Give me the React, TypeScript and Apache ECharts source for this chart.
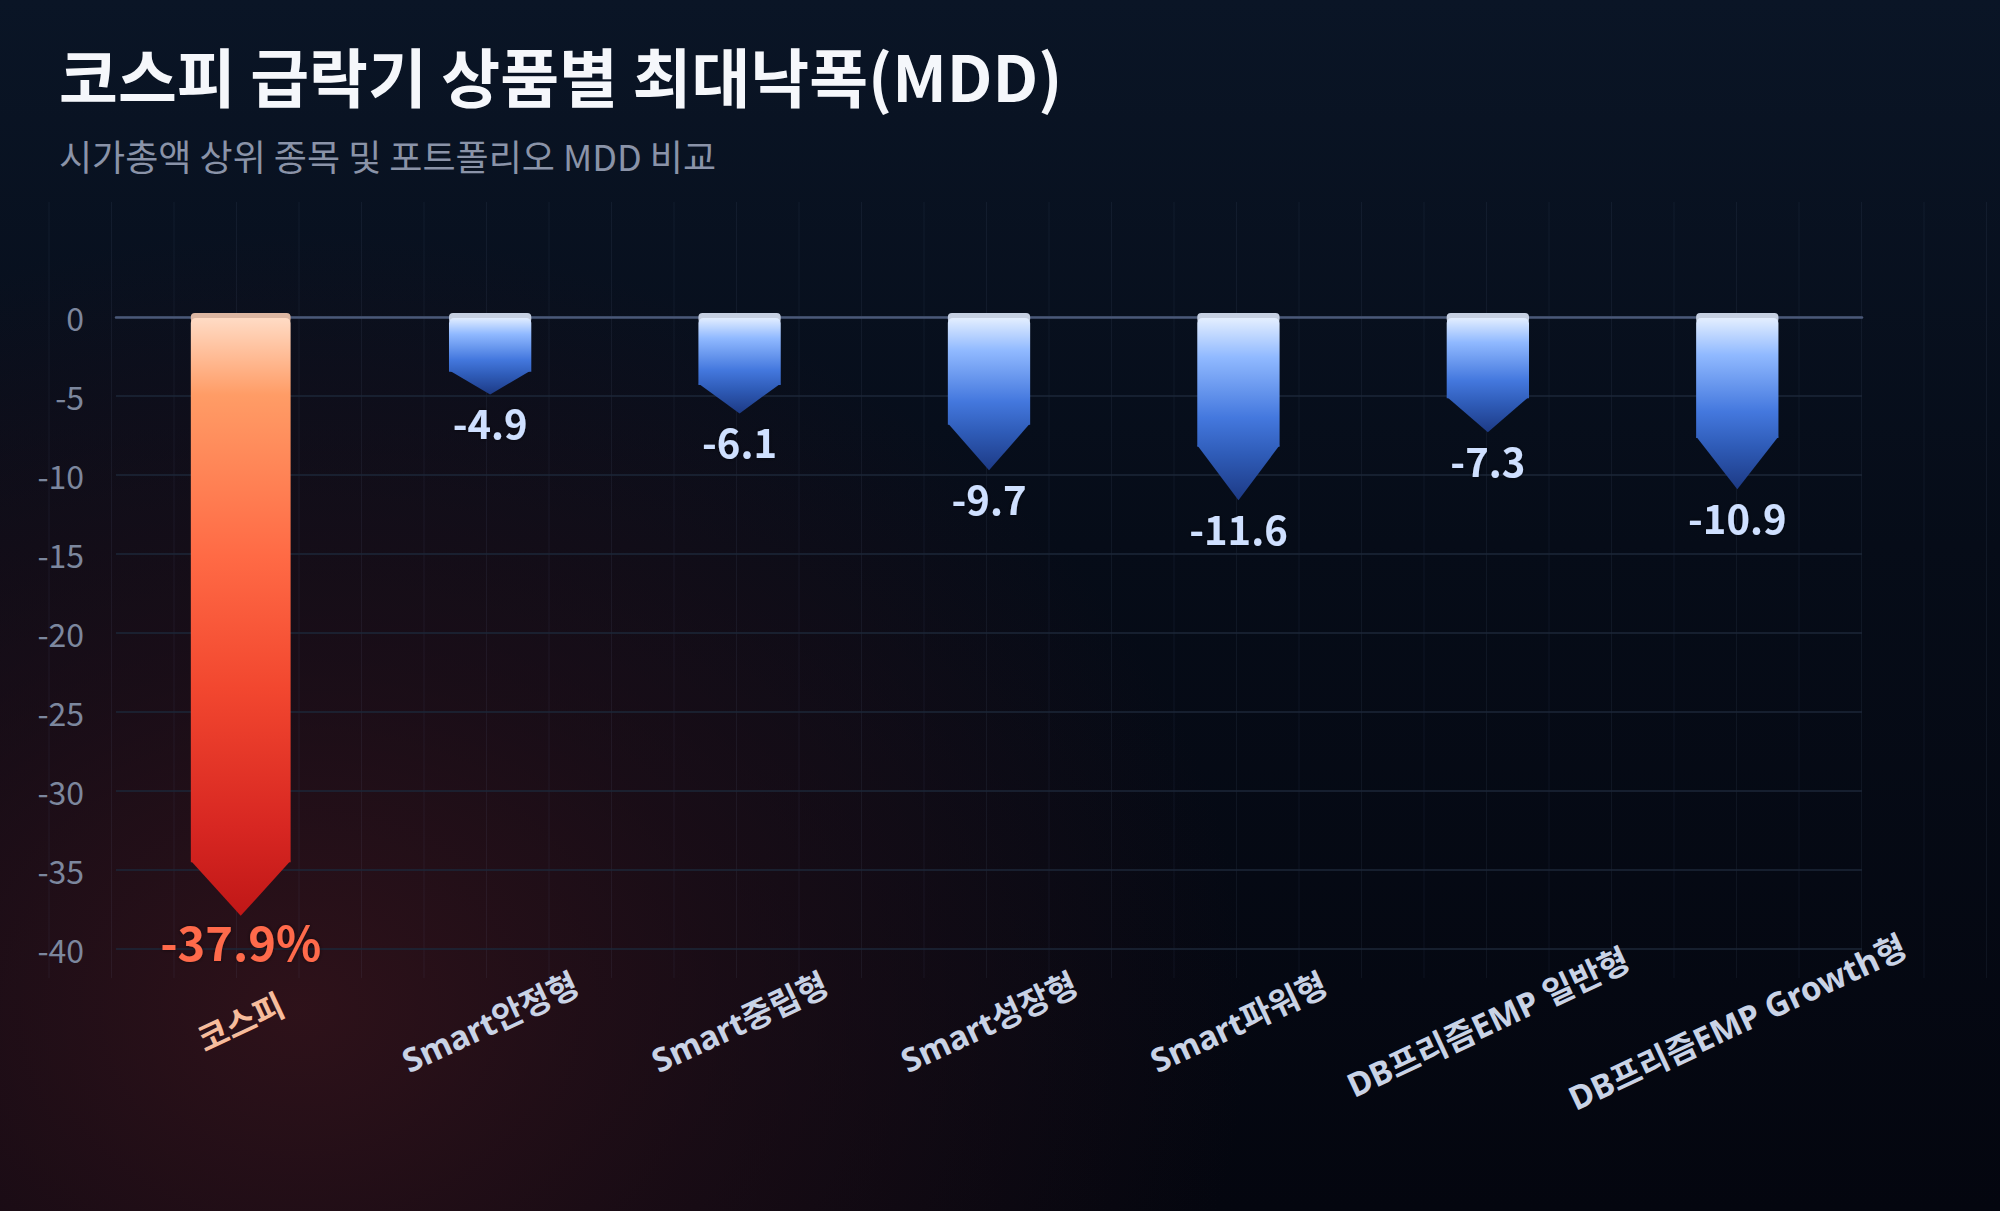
import React, { useEffect, useRef } from 'react';
import * as echarts from 'echarts';

const categories = [
  '코스피',
  'Smart안정형',
  'Smart중립형',
  'Smart성장형',
  'Smart파워형',
  'DB프리즘EMP 일반형',
  'DB프리즘EMP Growth형',
];
const mddValues = [-37.9, -4.9, -6.1, -9.7, -11.6, -7.3, -10.9];
const yMin = -40;
const yMax = 0;
const yStep = 5;

const titleText = '코스피 급락기 상품별 최대낙폭(MDD)';
const subtitleText = '시가총액 상위 종목 및 포트폴리오 MDD 비교';

const FONT = '"Noto Sans CJK KR", "Noto Sans", sans-serif';
const LABEL_FONT = '"Noto Sans", "Noto Sans CJK KR", sans-serif';

export default function App() {
  const ref = useRef<HTMLDivElement>(null);

  useEffect(() => {
    document.body.style.margin = '0';
    const chart = echarts.init(ref.current as HTMLDivElement, null, { renderer: 'svg' });

    const vlines: any[] = [];
    for (let k = 0; k < 32; k++) {
      const x = 49 + 62.5 * k;
      vlines.push({
        type: 'line',
        z: -10,
        silent: true,
        shape: { x1: x, y1: 202, x2: x, y2: 978 },
        style: { stroke: 'rgba(140,160,200,0.08)', lineWidth: 1 },
      });
    }

    const data = mddValues.map((v, i) => [i, v]);

    const renderItem = (params: any, api: any) => {
      const idx = api.value(0);
      const v = api.value(1);
      const top = api.coord([idx, 0]);
      const tip = api.coord([idx, v]);
      const band = api.size([1, 0])[0];
      const isK = idx === 0;
      const w = band * (isK ? 0.4 : 0.33);
      const cx = top[0];
      const y0 = top[1];
      const ty = tip[1];
      const th = Math.min((ty - y0) * 0.3, 54);
      const L = cx - w / 2;
      const R = cx + w / 2;
      const stops = isK
        ? [
            { offset: 0, color: '#ffdcc6' },
            { offset: 0.13, color: '#ff9c66' },
            { offset: 0.4, color: '#ff6a45' },
            { offset: 0.62, color: '#f2472f' },
            { offset: 0.85, color: '#d82722' },
            { offset: 1, color: '#c01717' },
          ]
        : [
            { offset: 0, color: '#e6f0ff' },
            { offset: 0.22, color: '#90b9ff' },
            { offset: 0.55, color: '#4478de' },
            { offset: 0.75, color: '#2f5cb8' },
            { offset: 1, color: '#1d3a85' },
          ];
      const grad = new echarts.graphic.LinearGradient(0, y0, 0, ty, stops, true);
      return {
        type: 'group',
        children: [
          {
            type: 'rect',
            shape: { x: L, y: y0 - 4, width: w, height: 10, r: 4 },
            style: { fill: isK ? '#dcb6a2' : '#c6d0e2' },
          },
          {
            type: 'rect',
            shape: { x: L, y: y0 + 1, width: w, height: ty - th - y0 - 0.5, r: [5, 5, 0, 0] },
            style: { fill: grad },
          },
          {
            type: 'polygon',
            shape: { points: [[L, ty - th - 1], [R, ty - th - 1], [cx, ty]] },
            style: { fill: grad },
          },
          {
            type: 'text',
            x: cx,
            y: ty + (isK ? 25 : 28),
            style: {
              text: isK ? v.toFixed(1) + '%' : v.toFixed(1),
              fill: isK ? '#ff6b4b' : '#cfe0ff',
              fontSize: isK ? 47 : 40,
              fontWeight: 'bold',
              fontFamily: FONT,
              align: 'center',
              verticalAlign: 'middle',
              textShadowColor: 'rgba(0,0,0,0.5)',
              textShadowBlur: 4,
            },
          },
        ],
      };
    };

    const option: any = {
      animation: false,
      backgroundColor: 'transparent',
      title: {
        text: titleText,
        subtext: subtitleText,
        left: 54,
        top: 37,
        itemGap: 31,
        textStyle: { fontSize: 64, fontWeight: 'bold', color: '#f5f7fb', fontFamily: FONT },
        subtextStyle: { fontSize: 36, fontWeight: 'normal', color: '#8a93a8', fontFamily: FONT },
      },
      graphic: vlines,
      grid: { left: 116, right: 138, top: 317, bottom: 262 },
      xAxis: [
        {
          type: 'category',
          data: categories,
          position: 'bottom',
          axisLine: { show: false, onZero: false },
          axisTick: { show: false },
          splitLine: { show: false },
          axisLabel: {
            interval: 0,
            rotate: 25,
            align: 'center',
            verticalAlign: 'middle',
            margin: 73,
            fontSize: 33,
            fontWeight: 'bold',
            fontFamily: LABEL_FONT,
            color: (val: string) => (val === '코스피' ? '#f6bc9c' : '#c9d3e6'),
          },
        },
        {
          type: 'category',
          data: categories,
          position: 'top',
          axisLine: { show: true, onZero: false, lineStyle: { color: '#4a5878', width: 2.5 } },
          axisTick: { show: false },
          axisLabel: { show: false },
          splitLine: { show: false },
        },
      ],
      yAxis: {
        type: 'value',
        min: yMin,
        max: yMax,
        interval: yStep,
        axisLine: { show: false },
        axisTick: { show: false },
        axisLabel: { fontSize: 32, color: '#7c879e', fontFamily: FONT, margin: 32 },
        splitLine: { lineStyle: { color: '#1d2739', width: 1.5 } },
      },
      series: [
        {
          type: 'custom',
          xAxisIndex: 0,
          yAxisIndex: 0,
          data,
          encode: { x: 0, y: 1 },
          renderItem,
          clip: false,
          z: 5,
        },
      ],
    };

    chart.setOption(option);
    return () => chart.dispose();
  }, []);

  return (
    <div
      style={{
        width: 2000,
        height: 1211,
        background:
          'radial-gradient(ellipse 950px 780px at 300px 1010px, rgba(48,18,26,0.95) 0%, rgba(38,15,24,0.6) 45%, rgba(20,10,20,0) 100%), linear-gradient(180deg, #0a1526 0%, #060c18 45%, #04060f 100%)',
      }}
    >
      <div ref={ref} style={{ width: 2000, height: 1211 }} />
    </div>
  );
}
